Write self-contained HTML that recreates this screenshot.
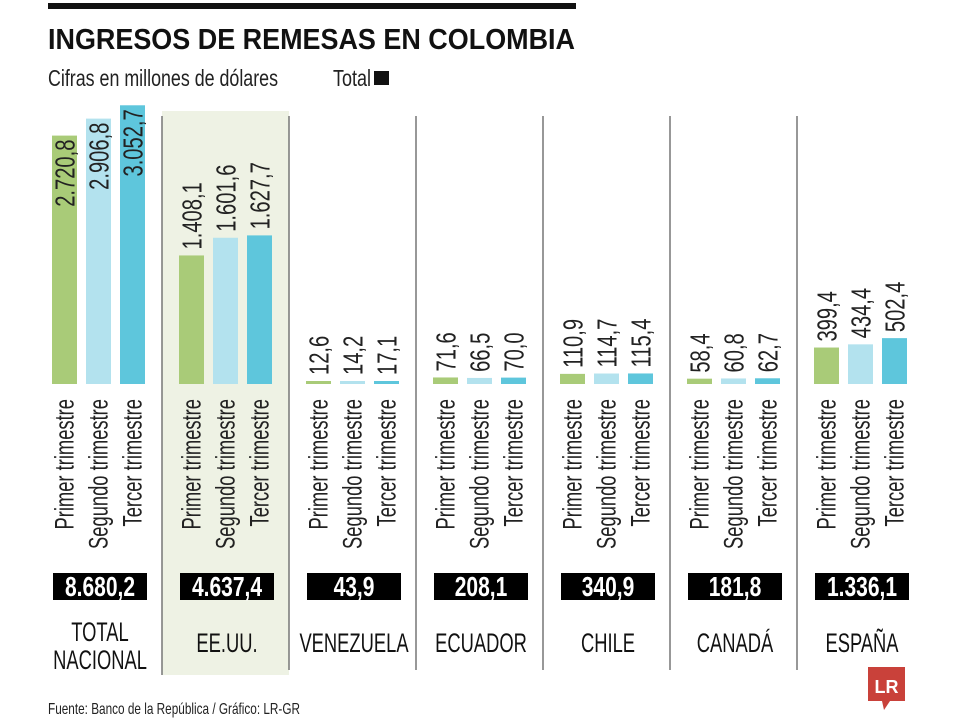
<!DOCTYPE html>
<html><head><meta charset="utf-8"><style>
body{margin:0;background:#fff;width:960px;height:720px;overflow:hidden}
svg{display:block}
text{font-family:"Liberation Sans Narrow","Liberation Sans",sans-serif}
</style></head><body>
<svg id="chart" width="960" height="720">
<rect x="48" y="3" width="528" height="6" fill="#111"/>
<text x="48" y="49" font-family="Liberation Sans" font-weight="bold" font-size="29" fill="#111" textLength="527" lengthAdjust="spacingAndGlyphs">INGRESOS DE REMESAS EN COLOMBIA</text>
<text x="48" y="86" font-size="23" fill="#222" textLength="230" lengthAdjust="spacingAndGlyphs">Cifras en millones de dólares</text>
<text x="333" y="86" font-size="23" fill="#222" textLength="38" lengthAdjust="spacingAndGlyphs">Total</text>
<rect x="374" y="71" width="15" height="14" fill="#111"/>
<rect x="162" y="111" width="127" height="564" fill="#eef2e4"/>
<g id="groups"></g>
<text x="48" y="714" font-size="16" fill="#222" textLength="252" lengthAdjust="spacingAndGlyphs">Fuente: Banco de la República / Gráfico: LR-GR</text>
<g>
<rect x="868" y="667" width="37" height="34" fill="#c9413a"/>
<polygon points="882,701 890,701 884,710" fill="#c9413a"/>
<text x="886.5" y="693" text-anchor="middle" font-family="Liberation Serif" font-weight="bold" font-size="18" fill="#fff">LR</text>
</g>
</svg>
<script>
const categories = ["TOTAL|NACIONAL","EE.UU.","VENEZUELA","ECUADOR","CHILE","CANADÁ","ESPAÑA"];
const q1 = [2720.8,1408.1,12.6,71.6,110.9,58.4,399.4];
const q2 = [2906.8,1601.6,14.2,66.5,114.7,60.8,434.4];
const q3 = [3052.7,1627.7,17.1,70.0,115.4,62.7,502.4];
const totals = ["8.680,2","4.637,4","43,9","208,1","340,9","181,8","1.336,1"];
const quarterLabels = ["Primer trimestre","Segundo trimestre","Tercer trimestre"];
const colors = ["#a9cb78","#b3e2ee","#5ec6dc"];
const NS="http://www.w3.org/2000/svg";
const g=document.getElementById('groups');
const base=384, scale=0.0913;
function y(v){return base-Math.max(3,v*scale);}
function gx(i){return 52+i*127;}
function fmt(v){let s=v.toFixed(1).replace('.',',');let [a,b]=s.split(',');a=a.replace(/\B(?=(\d{3})+(?!\d))/g,'.');return a+','+b;}
function mk(tag,attrs){const e=document.createElementNS(NS,tag);for(const k in attrs)e.setAttribute(k,attrs[k]);g.appendChild(e);return e;}
const series=[q1,q2,q3];
categories.forEach((c,i)=>{
  const x0=gx(i);
  if(i>0){const d=mk('line',{x1:x0-17,x2:x0-17,y1:116,y2:i==1?675:670,stroke:'#777','stroke-width':1.5});
    
    }
  series.forEach((s,k)=>{
    const bx=x0+k*34, top=y(s[i]);
    const r=mk('rect',{x:bx,y:top,width:25,height:base-top,fill:colors[k]});
    
    
    const cx=bx+12.5;
    const inside = s[i]*scale>200;
    const v=mk('text',{x:0,y:0,transform:`translate(${cx+10},${inside?top+4:top-6}) rotate(-90) scale(0.72,1)`,'font-size':28,fill:'#222','text-anchor':inside?'end':'start'});
    v.textContent=fmt(s[i]);
    
    
    const l=mk('text',{x:0,y:0,transform:`translate(${cx+9},399) rotate(-90) scale(0.68,1)`,'font-size':27,fill:'#222','text-anchor':'end'});
    l.textContent=quarterLabels[k];
    
    
  });
  const b=mk('rect',{x:x0+1,y:573,width:94,height:27,fill:'#000'});
  
  
  const t=mk('text',{x:0,y:0,transform:`translate(${x0+48},596) scale(0.75,1)`,'text-anchor':'middle','font-size':28,'font-weight':'bold',fill:'#fff'});
  t.textContent=totals[i];
  
  
  const parts=c.split('|');
  parts.forEach((p,j)=>{
    const yy = parts.length>1 ? 641+j*28 : 652;
    const n=mk('text',{x:0,y:0,transform:`translate(${x0+48},${yy}) scale(0.68,1)`,'text-anchor':'middle','font-size':27,fill:'#111'});
    n.textContent=p;
    
    
  });
});
</script>
</body></html>
